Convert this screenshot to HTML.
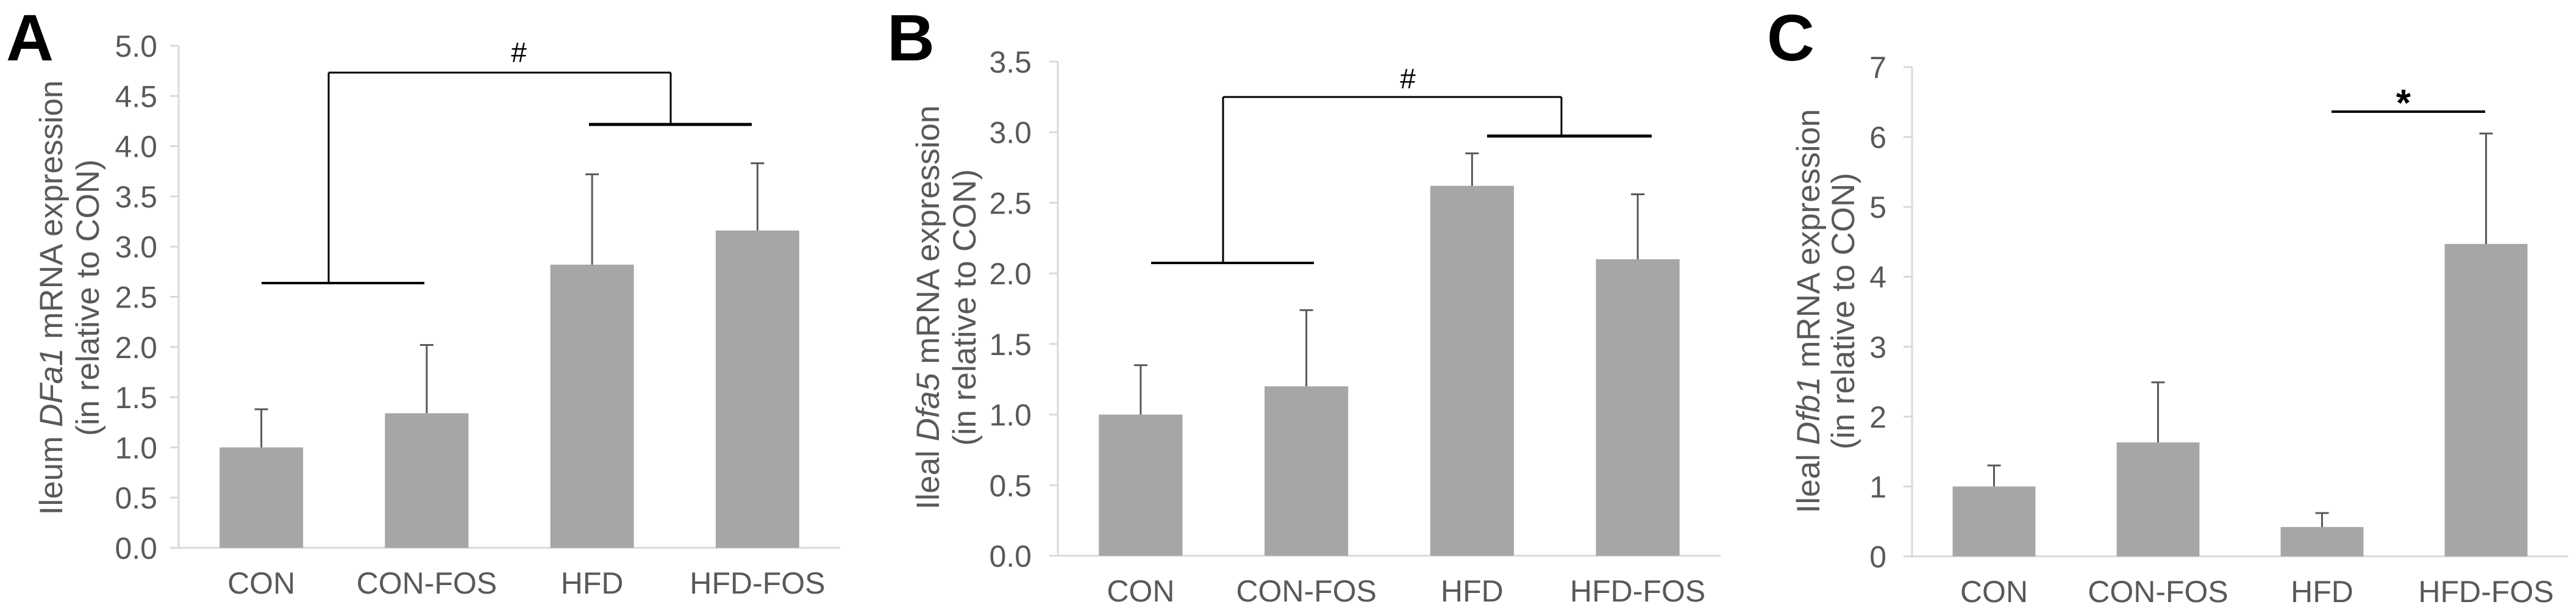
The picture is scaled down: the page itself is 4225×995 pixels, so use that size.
<!DOCTYPE html>
<html><head><meta charset="utf-8">
<style>
html,body{margin:0;padding:0;background:#fff;}
svg{display:block;font-family:"Liberation Sans",Arial,sans-serif;}
</style></head>
<body>
<svg id="fig" width="4225" height="995" viewBox="0 0 4225 995" xmlns="http://www.w3.org/2000/svg">
  <text x="10" y="99" font-size="108" font-weight="bold" fill="#000">A</text>
  <text x="1455" y="99" font-size="108" font-weight="bold" fill="#000">B</text>
  <text x="2898" y="99" font-size="108" font-weight="bold" fill="#000">C</text>

  <text transform="translate(102,488) rotate(-90)" text-anchor="middle" font-size="53" fill="#595959">Ileum  <tspan font-style="italic">DFa1</tspan> mRNA expression</text>
  <text transform="translate(162,488) rotate(-90)" text-anchor="middle" font-size="53" fill="#595959">(in relative to CON)</text>
  <text transform="translate(1540,504) rotate(-90)" text-anchor="middle" font-size="53" fill="#595959">Ileal <tspan font-style="italic">Dfa5</tspan> mRNA expression</text>
  <text transform="translate(1600,504) rotate(-90)" text-anchor="middle" font-size="53" fill="#595959">(in relative to CON)</text>
  <text transform="translate(2984,510) rotate(-90)" text-anchor="middle" font-size="53" fill="#595959">Ileal  <tspan font-style="italic">Dfb1</tspan> mRNA expression</text>
  <text transform="translate(3041,510) rotate(-90)" text-anchor="middle" font-size="53" fill="#595959">(in relative to CON)</text>

  <g stroke="#000" fill="none">
    <line x1="429" y1="464" x2="696" y2="464" stroke-width="4"/>
    <line x1="539" y1="464" x2="539" y2="119" stroke-width="3"/>
    <line x1="539" y1="119" x2="1100" y2="119" stroke-width="3"/>
    <line x1="1100" y1="119" x2="1100" y2="202" stroke-width="3"/>
    <line x1="966" y1="204" x2="1233" y2="204" stroke-width="5"/>
  </g>
  <text x="851" y="102" text-anchor="middle" font-size="46" fill="#000">#</text>
  <g stroke="#000" fill="none">
    <line x1="1888" y1="431" x2="2155" y2="431" stroke-width="4"/>
    <line x1="2006" y1="433" x2="2006" y2="159" stroke-width="3"/>
    <line x1="2006" y1="159" x2="2561" y2="159" stroke-width="3"/>
    <line x1="2561" y1="159" x2="2561" y2="222" stroke-width="3"/>
    <line x1="2439" y1="223" x2="2709" y2="223" stroke-width="5"/>
  </g>
  <text x="2309" y="145" text-anchor="middle" font-size="46" fill="#000">#</text>
  <g stroke="#000" fill="none">
    <line x1="3824" y1="183" x2="4076" y2="183" stroke-width="4"/>
  </g>
  <text x="3942" y="190" text-anchor="middle" font-size="62" font-weight="bold" fill="#000">*</text>
</svg>
<script>
const categories = ["CON", "CON-FOS", "HFD", "HFD-FOS"];
const valuesA = [1.0, 1.34, 2.82, 3.16];
const errTopA = [1.38, 2.02, 3.72, 3.83];
const ticksA = ["0.0","0.5","1.0","1.5","2.0","2.5","3.0","3.5","4.0","4.5","5.0"];
const valuesB = [1.0, 1.2, 2.62, 2.1];
const errTopB = [1.35, 1.74, 2.85, 2.56];
const ticksB = ["0.0","0.5","1.0","1.5","2.0","2.5","3.0","3.5"];
const valuesC = [1.0, 1.63, 0.42, 4.47];
const errTopC = [1.3, 2.49, 0.62, 6.05];
const ticksC = ["0","1","2","3","4","5","6","7"];

const NS = "http://www.w3.org/2000/svg";
const svg = document.getElementById("fig");
function mk(tag, attrs, parent) {
  const e = document.createElementNS(NS, tag);
  for (const k in attrs) e.setAttribute(k, attrs[k]);
  (parent || svg).appendChild(e);
  return e;
}
function panel(id, cfg, vals, errs, ticks) {
  const g = mk("g", {});
  
  
  const yMax = parseFloat(ticks[ticks.length - 1]);
  const y = v => cfg.y0 - (v / yMax) * (cfg.y0 - cfg.yTop);
  const bw = (cfg.x1 - cfg.x0) / categories.length;
  const xc = i => cfg.x0 + bw * (i + 0.5);
  const ya = mk("line", {x1: cfg.x0, y1: cfg.yTop, x2: cfg.x0, y2: cfg.y0, stroke: "#d9d9d9", "stroke-width": 3}, g);
  
  
  const xa = mk("line", {x1: cfg.x0 - 14, y1: cfg.y0, x2: cfg.x1, y2: cfg.y0, stroke: "#d9d9d9", "stroke-width": 3}, g);
  
  
  ticks.forEach(t => {
    const v = parseFloat(t);
    const tk = mk("line", {x1: cfg.x0 - 14, y1: y(v), x2: cfg.x0, y2: y(v), stroke: "#d9d9d9", "stroke-width": 3}, g);
    
    
    const tl = mk("text", {x: cfg.labelX, y: y(v) + 18, "text-anchor": "end", "font-size": 50, fill: "#595959"}, g);
    tl.textContent = t;
    
    
  });
  categories.forEach((c, i) => {
    const w = bw * 0.505;
    const r = mk("rect", {x: xc(i) - w / 2, y: y(vals[i]), width: w, height: cfg.y0 - y(vals[i]), fill: "#a6a6a6"}, g);
    
    
    const eb = mk("path", {d: `M${xc(i)} ${y(vals[i])}V${y(errs[i])}M${xc(i) - 11} ${y(errs[i])}H${xc(i) + 11}`, stroke: "#595959", "stroke-width": 3, fill: "none"}, g);
    
    
    const xl = mk("text", {x: xc(i), y: cfg.y0 + 75, "text-anchor": "middle", "font-size": 50, fill: "#595959"}, g);
    xl.textContent = c;
    
    
  });
}
panel("a", {x0: 293, x1: 1378, y0: 898, yTop: 75, labelX: 258}, valuesA, errTopA, ticksA);
panel("b", {x0: 1735, x1: 2822, y0: 911, yTop: 101, labelX: 1692}, valuesB, errTopB, ticksB);
panel("c", {x0: 3136, x1: 4212, y0: 912, yTop: 110, labelX: 3094}, valuesC, errTopC, ticksC);
</script>
</body></html>
